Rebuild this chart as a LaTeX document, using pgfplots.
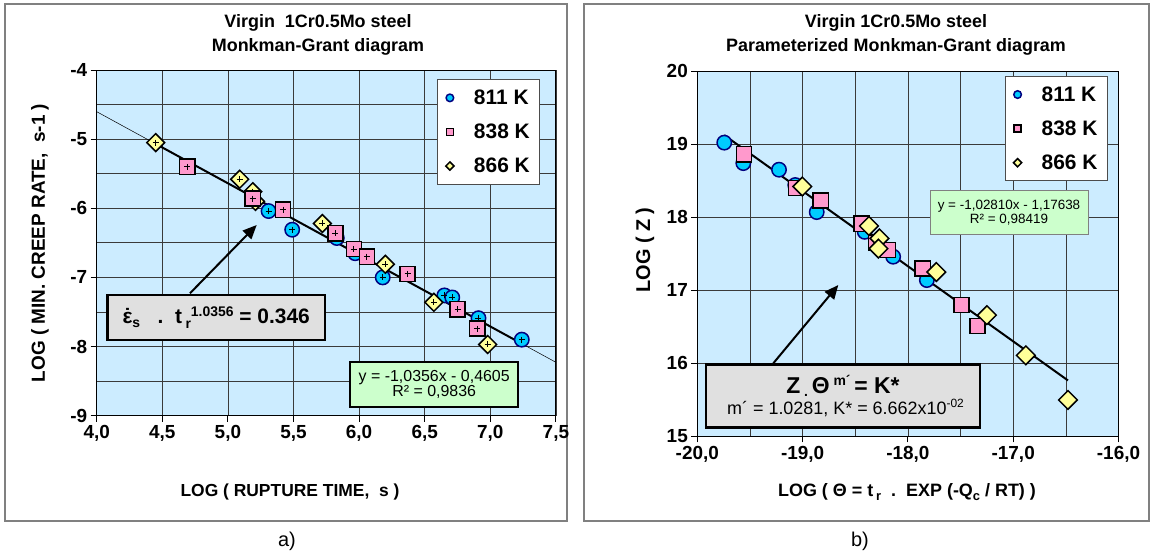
\documentclass[border=0pt]{standalone}
\usepackage{pgfplots}
\pgfplotsset{compat=1.18}
\usepackage{fontspec}
\setmainfont{Liberation Sans}
\usetikzlibrary{arrows.meta}

\definecolor{plotbg}{HTML}{CCECFF}
\definecolor{cfill}{HTML}{00CCFF}
\definecolor{cdraw}{HTML}{000080}
\definecolor{sfill}{HTML}{FF99CC}
\definecolor{dfill}{HTML}{FFFF99}
\definecolor{eqfill}{HTML}{CCFFCC}
\definecolor{notefill}{HTML}{E0E0E0}
\definecolor{framegray}{HTML}{808080}
\definecolor{gridc}{HTML}{3A3A3A}

\newcommand{\fs}[1]{\fontsize{#1}{#1}\selectfont}
\newcommand{\epsdot}{\ooalign{ε\cr\hidewidth˙\hidewidth\cr}}

\pgfplotsset{
  mgbase/.style={
    scale only axis,
    axis background/.style={fill=plotbg},
    axis line style={draw=black, line width=0.9bp},
    grid=both,
    major grid style={draw=gridc, line width=0.7bp},
    minor grid style={draw=gridc, line width=0.7bp},
    tick align=outside,
    major tick length=6bp,
    minor tick length=0pt,
    tick style={draw=black, line width=0.9bp},
    xtick pos=bottom, ytick pos=left,
    ticklabel style={font=\fs{19}\bfseries},
    /pgf/number format/assume math mode=true,
    legend cell align=left,
    legend style={draw=black!70, line width=1bp, fill=white,
      font=\fs{21}\bfseries, row sep=14bp, inner xsep=8bp, inner ysep=8bp,
      /tikz/every odd column/.append style={column sep=18bp}},
  },
  m811/.style={only marks, mark=*, mark size=#1,
    mark options={fill=cfill, draw=cdraw, line width=1.5bp}},
  m838/.style={only marks, mark=square*, mark size=#1,
    mark options={fill=sfill, draw=black, line width=1.5bp}},
  m866/.style={only marks, mark=square*, mark size=#1,
    mark options={fill=dfill, draw=black, line width=1.5bp, rotate=45}},
  cross/.style={only marks, mark=+, mark size=3bp,
    mark options={draw=black, line width=1bp}, forget plot},
}

\begin{document}
\begin{tikzpicture}
\path[use as bounding box, fill=white] (0,0) rectangle (1153bp,558bp);

% panel frames
\draw[framegray, line width=1.2bp] (5bp,37bp) rectangle (567bp,554bp);
\draw[framegray, line width=1.2bp] (584bp,37bp) rectangle (1149bp,554bp);

% ---------------- a) Monkman-Grant diagram ----------------
\begin{axis}[mgbase,
  at={(96.7bp,142.3bp)}, anchor=south west,
  width=459.2bp, height=345.7bp,
  xmin=4, xmax=7.5, ymin=-9, ymax=-4,
  xtick={4,4.5,...,7.5},
  ytick={-9,-8,...,-4},
  minor ytick={-8.5,-7.5,-6.5,-5.5,-4.5},
  xticklabel style={/pgf/number format/.cd, fixed, fixed zerofill, precision=1, use comma},
  legend style={at={(0.7417,0.973)}, anchor=north west},
]
% Monkman-Grant fit  y = -1.0356x - 0.4605
\addplot[black, line width=0.5bp, forget plot] coordinates {(4.0,-4.6029) (7.5,-8.2275)};
\addplot[black, line width=2bp, forget plot] coordinates {(4.45,-5.0689) (7.24,-7.9582)};

\addplot[m811=7.2bp, forget plot] coordinates {
 (5.31,-6.04) (5.49,-6.31) (5.83,-6.43) (5.97,-6.65) (6.18,-7.00)
 (6.65,-7.26) (6.71,-7.29) (6.91,-7.59) (7.24,-7.90)};
\addplot[cross] coordinates {
 (5.31,-6.04) (5.49,-6.31) (5.83,-6.43) (5.97,-6.65) (6.18,-7.00)
 (6.65,-7.26) (6.71,-7.29) (6.91,-7.59) (7.24,-7.90)};
\addplot[m866=6.3bp, forget plot] coordinates {
 (4.45,-5.05) (5.09,-5.58) (5.19,-5.76) (5.21,-5.90) (5.72,-6.22)
 (6.20,-6.81) (6.57,-7.36) (6.98,-7.97)};
\addplot[cross] coordinates {
 (4.45,-5.05) (5.09,-5.58) (5.19,-5.76) (5.21,-5.90) (5.72,-6.22)
 (6.20,-6.81) (6.57,-7.36) (6.98,-7.97)};
\addplot[m838=7.6bp, forget plot] coordinates {
 (4.69,-5.40) (5.19,-5.86) (5.42,-6.02) (5.82,-6.36) (5.96,-6.59)
 (6.06,-6.70) (6.37,-6.95) (6.75,-7.46) (6.90,-7.74)};
\addplot[cross] coordinates {
 (4.69,-5.40) (5.19,-5.86) (5.42,-6.02) (5.82,-6.36) (5.96,-6.59)
 (6.06,-6.70) (6.37,-6.95) (6.75,-7.46) (6.90,-7.74)};

\addlegendimage{m811=3.8bp}
\addlegendentry{811 K}
\addlegendimage{m838=3.6bp}
\addlegendentry{838 K}
\addlegendimage{m866=2.9bp}
\addlegendentry{866 K}
\end{axis}

% ---------------- b) parameterized diagram ----------------
\begin{axis}[mgbase,
  at={(697.3bp,121.5bp)}, anchor=south west,
  width=421.2bp, height=365.5bp,
  xmin=-20, xmax=-16, ymin=15, ymax=20,
  xtick={-20,-19,...,-16},
  minor xtick={-19.5,-18.5,-17.5,-16.5},
  ytick={15,16,...,20},
  xticklabel style={/pgf/number format/.cd, fixed, fixed zerofill, precision=1, use comma},
  legend style={at={(0.7305,0.9863)}, anchor=north west},
]
% fit  y = -1.02810x - 1.17638
\addplot[black, line width=2bp, forget plot] coordinates {(-19.744,19.1224) (-16.48,15.7669)};

\addplot[m811=7.2bp, forget plot] coordinates {
 (-19.744,19.02) (-19.563,18.74) (-19.224,18.65) (-19.07,18.44) (-18.866,18.07)
 (-18.41,17.80) (-18.14,17.46) (-17.82,17.14)};
\addplot[m838=7.6bp, forget plot] coordinates {
 (-19.556,18.86) (-19.063,18.40) (-18.828,18.23) (-18.44,17.91) (-18.30,17.65)
 (-18.19,17.55) (-17.86,17.30) (-17.49,16.80) (-17.34,16.51)};
\addplot[m866=6.6bp, forget plot] coordinates {
 (-19.003,18.42) (-18.37,17.88) (-18.27,17.71) (-18.28,17.57) (-17.73,17.25)
 (-17.25,16.66) (-16.88,16.11) (-16.48,15.50)};

\addlegendimage{m811=3.8bp}
\addlegendentry{811 K}
\addlegendimage{m838=3.6bp}
\addlegendentry{838 K}
\addlegendimage{m866=2.9bp}
\addlegendentry{866 K}
\end{axis}

% titles
\node[font=\fs{18}\bfseries] at (318bp,535bp) {Virgin\ \ 1Cr0.5Mo steel};
\node[font=\fs{18}\bfseries] at (318bp,511bp) {Monkman-Grant diagram};
\node[font=\fs{18}\bfseries] at (896bp,535bp) {Virgin 1Cr0.5Mo steel};
\node[font=\fs{18}\bfseries] at (896bp,511bp) {Parameterized Monkman-Grant diagram};

% axis labels
\node[font=\fs{17.5}\bfseries] at (290bp,66bp) {LOG ( RUPTURE TIME,\ \ s )};
\node[font=\fs{19}\bfseries, rotate=90] at (40bp,315bp) {LOG ( MIN. CREEP RATE,\ \ s-1 )};
\node[font=\fs{18}\bfseries] at (907bp,66bp) {LOG ( Θ = t\,{\fs{13}\raisebox{-0.3em}{r}}\ \ .\ \ EXP (-Q{\fs{13}\raisebox{-0.3em}{c}} / RT) )};
\node[font=\fs{20}\bfseries, rotate=90] at (645bp,308bp) {LOG ( Z )};

% panel letters
\node[font=\fs{20}] at (287bp,17bp) {a)};
\node[font=\fs{20}] at (860bp,17bp) {b)};

% regression boxes
\node[draw=black, line width=2bp, fill=eqfill, minimum width=168bp, minimum height=45.6bp,
      inner sep=0pt, align=center, font=\fs{16}] at (434.2bp,173.5bp)
      {y = -1,0356x - 0,4605\\[-1bp] R² = 0,9836};
\node[draw=black!50, line width=0.8bp, fill=eqfill, minimum width=158bp, minimum height=43.6bp,
      inner sep=0pt, align=center, font=\fs{13.5}] at (1009bp,345.5bp)
      {y = -1,02810x - 1,17638\\[1bp] R² = 0,98419};

% relation boxes with arrows
\draw[black, line width=2bp, -{Triangle[length=14bp, width=12bp]}] (190bp,264.7bp) -- (256.7bp,333bp);
\node[draw=black, line width=2.5bp, fill=notefill, minimum width=217.7bp, minimum height=45bp,
      inner sep=0pt, font=\fs{21}\bfseries] at (216.2bp,240.5bp)
      {\epsdot{\fs{14}\raisebox{-0.3em}{s}}\ \ \ .\ \ t\,{\fs{14}\raisebox{-0.35em}{r}\raisebox{0.55em}{1.0356}} = 0.346};

\draw[black, line width=2bp, -{Triangle[length=14bp, width=12bp]}] (773.3bp,194.7bp) -- (838.3bp,273bp);
\node[draw=black, line width=2.5bp, fill=notefill, minimum width=274bp, minimum height=63.4bp,
      inner sep=0pt, align=center] at (843bp,162bp)
      {{\fs{23}\bfseries Z\,{\fs{14}\raisebox{-0.2em}{.}}\,Θ\,{\fs{14}\raisebox{0.6em}{m´}}\,= K*}\\[1bp]
       {\fs{18} m´ = 1.0281, K* = 6.662x10{\fs{12}\raisebox{0.6em}{-02}}}};
\end{tikzpicture}
\end{document}
